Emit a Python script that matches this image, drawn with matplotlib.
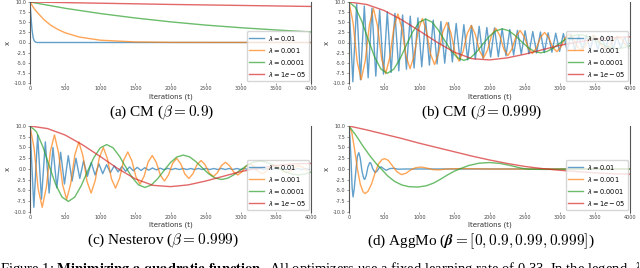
import numpy as np
import matplotlib
matplotlib.use('Agg')
import matplotlib.pyplot as plt

# ---- data (x vs iteration t) ----
labels = [r'$\lambda = 0.01$', r'$\lambda = 0.001$', r'$\lambda = 0.0001$', r'$\lambda = 1e-05$']
colors = ['#1f77b4', '#ff7f0e', '#2ca02c', '#d62728']
captions = [r'(a) CM ($\beta = 0.9$)', r'(b) CM ($\beta = 0.999$)',
            r'(c) Nesterov ($\beta = 0.999$)', r'(d) AggMo ($\boldsymbol{\beta} = [0, 0.9, 0.99, 0.999]$)']

# (a) CM beta=0.9
cm9_blue_t = [0, 10, 20, 30, 45, 60, 80, 100, 4000]
cm9_blue = [10, 7.5, 5.0, 3.0, 1.2, 0.4, 0.1, 0.0, 0.0]
cm9_orange_t = [0, 50, 100, 200, 300, 400, 500, 700, 1000, 1500, 2000, 4000]
cm9_orange = [10, 8.6, 7.5, 5.6, 4.2, 3.2, 2.4, 1.35, 0.57, 0.14, 0.03, 0]
cm9_green_t = [0, 500, 1000, 1500, 2000, 2500, 3000, 3500, 4000]
cm9_green = [10, 8.45, 7.15, 6.05, 5.1, 4.3, 3.65, 3.1, 2.6]
cm9_red_t = [0, 1000, 2000, 3000, 4000]
cm9_red = [10, 9.7, 9.4, 9.15, 8.9]

# (b) CM beta=0.999
cm999_blue_t = np.arange(74) * 54.5
cm999_blue = [10.0, -9.7, 9.5, -9.2, 9.0, -8.7, 8.5, -8.3, 8.0, -7.8, 7.6, -7.4, 7.2, -7.0, 6.8,
              -6.6, 6.5, -6.3, 6.1, -6.0, 5.8, -5.6, 5.5, -5.3, 5.2, -5.1, 4.9, -4.8, 4.7, -4.5,
              4.4, -4.3, 4.2, -4.1, 4.0, -3.9, 3.7, -3.6, 3.6, -3.5, 3.4, -3.3, 3.2, -3.1, 3.0,
              -2.9, 2.9, -2.8, 2.7, -2.6, 2.6, -2.5, 2.4, -2.4, 2.3, -2.2, 2.2, -2.1, 2.1, -2.0,
              1.9, -1.9, 1.8, -1.8, 1.7, -1.7, 1.7, -1.6, 1.6, -1.5, 1.5, -1.4, 1.4, -1.4]
cm999_orange_t = np.arange(69) * 58
cm999_orange = [10.0, 4.86, -4.72, -9.17, -4.45, 4.33, 8.40, 4.08, -3.97, -7.70, -3.74, 3.64,
                7.06, 3.43, -3.33, -6.47, -3.15, 3.06, 5.93, 2.88, -2.80, -5.44, -2.64, 2.57,
                4.98, 2.42, -2.35, -4.57, -2.22, 2.16, 4.19, 2.04, -1.98, -3.84, -1.87, 1.81,
                3.52, 1.71, -1.66, -3.23, -1.57, 1.52, 2.96, 1.44, -1.40, -2.71, -1.32, 1.28,
                2.48, 1.21, -1.17, -2.28, -1.11, 1.08, 2.09, 1.02, -0.99, -1.91, -0.93, 0.91,
                1.75, 0.85, -0.83, -1.61, -0.78, 0.76, 1.47, 0.72, -0.70]
cm999_green_t = np.linspace(0, 4000, 45)
cm999_green = [10.0, 8.70, 5.25, 0.76, -3.54, -6.56, -7.61, -6.62, -4.00, -0.58, 2.70, 4.99,
               5.79, 5.04, 3.04, 0.44, -2.05, -3.80, -4.41, -3.83, -2.31, -0.33, 1.56, 2.89,
               3.36, 2.92, 1.76, 0.25, -1.19, -2.20, -2.55, -2.22, -1.34, -0.19, 0.90, 1.67,
               1.94, 1.69, 1.02, 0.15, -0.69, -1.27, -1.48, -1.29, -0.78]
cm999_red_t = np.arange(17) * 250
cm999_red = [10.0, 9.4, 7.9, 5.6, 2.9, 0.1, -2.4, -4.0, -4.3, -3.8, -2.9, -1.8, -0.7, 0.1,
             0.8, 1.2, 1.4]

# (c) Nesterov beta=0.999
nest_blue_t = np.arange(74) * 54.5
nest_blue = [10.0, -8.9, 7.9, -7.0, 6.3, -5.6, 5.0, -4.4, 3.9, -3.5, 3.1, -2.8, 2.5, -2.2, 1.9,
             -1.7, 1.5, -1.4, 1.2, -1.1, 1.0, -0.85, 0.76, -0.68, 0.6, -0.53, 0.48, -0.42, 0.38,
             -0.33, 0.3, -0.27, 0.24, -0.21, 0.19, -0.17, 0.15, -0.13, 0.12, -0.12, 0.12, -0.12,
             0.12, -0.12, 0.12, -0.12, 0.12, -0.12, 0.12, -0.12, 0.12, -0.12, 0.12, -0.12, 0.12,
             -0.12, 0.12, -0.12, 0.12, -0.12, 0.12, -0.12, 0.12, -0.12, 0.12, -0.12, 0.12, -0.12,
             0.12, -0.12, 0.12, -0.12, 0.12, -0.12]
nest_orange_t = np.arange(69) * 58
nest_orange = [10.0, 4.81, -4.63, -8.91, -4.29, 4.12, 7.93, 3.82, -3.67, -7.06, -3.40, 3.27,
               6.29, 3.03, -2.91, -5.60, -2.70, 2.60, 4.99, 2.40, -2.31, -4.44, -2.14, 2.06,
               3.96, 1.91, -1.83, -3.52, -1.70, 1.63, 3.14, 1.51, -1.45, -2.79, -1.35, 1.30,
               2.49, 1.20, -1.15, -2.21, -1.07, 1.03, 1.97, 0.95, -0.92, -1.76, -0.85, 0.82,
               1.56, 0.75, -0.73, -1.39, -0.67, 0.65, 1.24, 0.60, -0.58, -1.10, -0.53, 0.51,
               0.98, 0.48, -0.46, -0.88, -0.42, 0.41, 0.78, 0.38, -0.36]
nest_green_t = np.linspace(0, 4000, 45)
nest_green = [10.0, 8.69, 5.23, 0.76, -3.52, -6.51, -7.54, -6.55, -3.95, -0.57, 2.66, 4.91,
              5.68, 4.94, 2.98, 0.43, -2.00, -3.70, -4.29, -3.72, -2.24, -0.32, 1.51, 2.79,
              3.24, 2.81, 1.69, 0.24, -1.14, -2.11, -2.44, -2.12, -1.28, -0.18, 0.85, 1.58,
              1.84, 1.59, 0.96, 0.14, -0.65, -1.19, -1.38, -1.20, -0.73]
nest_red_t = np.arange(17) * 250
nest_red = [10.0, 9.4, 7.9, 5.6, 2.9, 0.1, -2.3, -3.8, -4.1, -3.7, -2.8, -1.7, -0.6, 0.2,
            0.8, 1.2, 1.3]

# (d) AggMo
agg_blue_t = [0, 15, 30, 45, 58, 75, 100, 120, 140, 160, 185, 210, 225, 245, 270, 295, 310,
              340, 370, 400, 430, 460, 490, 530, 580, 640, 700, 800, 4000]
agg_blue = [10, 7, 1.5, -4.5, -6.5, -4.5, 0, 3.0, 3.8, 2.5, -0.5, -2.2, -2.4, -1.5, 0.5, 1.5,
            1.4, 0, -0.8, -0.5, 0.3, 0.5, 0.1, -0.3, 0.1, 0.15, -0.05, 0, 0]
agg_orange_t = [0, 40, 80, 120, 160, 200, 230, 270, 320, 370, 420, 470, 510, 560, 620, 680,
                745, 810, 880, 950, 1030, 1110, 1200, 1280, 1400, 1600, 1800, 2000, 4000]
agg_orange = [10, 8.5, 4.5, 0.0, -3.5, -5.3, -5.7, -5.2, -3.5, -1.0, 1.2, 2.2, 2.4, 2.0, 0.7,
              -0.6, -1.3, -1.0, -0.2, 0.3, 0.45, 0.2, -0.15, -0.2, 0, 0.1, 0.05, 0, 0]
agg_green_t = [0, 100, 200, 300, 400, 460, 550, 650, 750, 850, 980, 1100, 1200, 1300, 1400,
               1500, 1575, 1700, 1850, 2000, 2150, 2300, 2450, 2550, 2800, 3200, 4000]
agg_green = [10, 7.8, 5.3, 3.0, 1.0, 0, -1.6, -2.9, -3.7, -4.1, -4.2, -3.9, -3.3, -2.4, -1.4,
             -0.5, 0, 0.8, 1.35, 1.5, 1.3, 0.8, 0.2, -0.05, -0.1, 0, 0]
agg_red_t = np.arange(17) * 250
agg_red = [10, 9.1, 8.1, 7.1, 6.0, 5.0, 4.0, 3.0, 2.1, 1.3, 0.6, 0.1, -0.3, -0.6, -0.9, -1.1, -1.2]

panels = [
    [(cm9_blue_t, cm9_blue), (cm9_orange_t, cm9_orange), (cm9_green_t, cm9_green), (cm9_red_t, cm9_red)],
    [(cm999_blue_t, cm999_blue), (cm999_orange_t, cm999_orange), (cm999_green_t, cm999_green), (cm999_red_t, cm999_red)],
    [(nest_blue_t, nest_blue), (nest_orange_t, nest_orange), (nest_green_t, nest_green), (nest_red_t, nest_red)],
    [(agg_blue_t, agg_blue), (agg_orange_t, agg_orange), (agg_green_t, agg_green), (agg_red_t, agg_red)],
]

W, H = 640, 268
fig = plt.figure(figsize=(W / 100, H / 100), dpi=100)

# axes boxes in pixels: left, top, width, height
boxes = [(30, 2, 281, 81), (349, 2, 281, 81), (30, 126, 281, 86), (349, 126, 281, 86)]
cap_pos = [(162, 113), (482, 113), (163, 241), (481, 241)]

for i, (box, series) in enumerate(zip(boxes, panels)):
    l, t, w, h = box
    ax = fig.add_axes([l / W, 1 - (t + h) / H, w / W, h / H])
    if i == 1:
        ax.axhline(0, color=colors[0], alpha=0.5, lw=0.8, ls=':')
    for (xs, ys), c, lab in zip(series, colors, labels):
        ax.plot(xs, ys, color=c, lw=1.0, alpha=0.7, label=lab)
    ax.set_xlim(0, 4000)
    ax.set_ylim(-10, 10)
    ax.set_xticks(np.arange(0, 4001, 500))
    ax.set_yticks(np.arange(-10, 10.1, 2.5))
    ax.set_yticklabels(['%.1f' % v for v in np.arange(-10, 10.1, 2.5)])
    ax.tick_params(labelsize=3.5, length=1.5, width=0.4, pad=1, colors='#444444')
    for s in ['top', 'bottom']:
        ax.spines[s].set_visible(False)
    for s in ['left', 'right']:
        ax.spines[s].set_color('#555555')
        ax.spines[s].set_linewidth(0.8)
    ax.set_xlabel('Iterations (t)', fontsize=5, color='#333333')
    ax.xaxis.set_label_coords(0.5, -10 / h)
    ax.set_ylabel('x', fontsize=5, color='#333333')
    ax.yaxis.set_label_coords(-19 / w, 0.5)
    ax.legend(loc='lower right', fontsize=4.8, handlelength=2.2, labelspacing=0.45,
              borderpad=0.35, handletextpad=0.6, framealpha=0.8, edgecolor='#cccccc',
              borderaxespad=0.3)
    cx, cy = cap_pos[i]
    fig.text(cx / W, 1 - cy / H, captions[i], ha='center', va='center', fontsize=11,
             family='Liberation Serif', math_fontfamily='cm')

# caption line of the page, cut by the bottom edge as in the reference
fig.text(0.0, 1 - 260 / H,
         r'Figure 1: $\mathbf{Minimizing\ a\ quadratic\ function.}$ All optimizers use a fixed learning rate of 0.33. In the legend, $\lambda$',
         ha='left', va='top', fontsize=10.5, family='Liberation Serif', math_fontfamily='stix')

fig.savefig('out.png', dpi=100)
